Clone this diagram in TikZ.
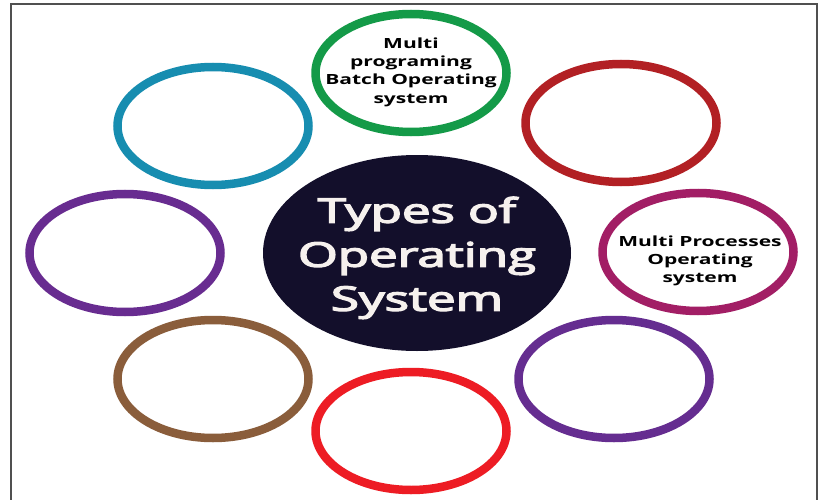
\documentclass[tikz,border=0pt]{standalone}
\usepackage{fontspec}
\setmainfont{Open Sans}
\newfontfamily\hubfont[FakeBold=3.5]{Open Sans}
\usetikzlibrary{shapes.geometric}
\definecolor{cgreen}{HTML}{149A48}
\definecolor{cteal}{HTML}{178DB0}
\definecolor{cdred}{HTML}{B22024}
\definecolor{cpurpA}{HTML}{682C90}
\definecolor{cmag}{HTML}{A21E65}
\definecolor{cbrown}{HTML}{8A5D3B}
\definecolor{cred}{HTML}{ED1C24}
\definecolor{cpurpB}{HTML}{652D90}
\definecolor{cnavy}{HTML}{130F2B}
\definecolor{ctext}{HTML}{F6F1EE}
\definecolor{cframe}{HTML}{505050}
\begin{document}
\begin{tikzpicture}[x=1pt,y=-1pt,
  ring/.style={ellipse, line width=8.5pt, minimum width=191pt, minimum height=118pt, inner sep=0pt},
  lbl/.style={align=center, inner sep=0pt, text=black, font=\bfseries\fontsize{14}{18.3}\selectfont},
  hub/.style={ellipse, fill=cnavy, minimum width=308pt, minimum height=196pt, inner sep=0pt},
  hubtxt/.style={align=center, inner sep=0pt, text=ctext, font=\hubfont\fontsize{34}{44}\selectfont}]
\useasboundingbox (0,0) rectangle (819,500);
\fill[white] (0,0) rectangle (819,500);
% frame
\coordinate (fbl) at (11,502);
\coordinate (ftl) at (11,4);
\coordinate (ftr) at (817,4);
\coordinate (fbr) at (817,502);
\draw[cframe, line width=1.6pt] (fbl) -- (ftl) -- (ftr) -- (fbr);
% central hub
\node[hub] (hub) at (417,253) {};
\node[hubtxt] (hubt) at (417,258) {\scalebox{1.5}[1]{\begin{tabular}{@{}c@{}}Types of\\Operating\\System\end{tabular}}};
% rings
\node[ring, draw=cgreen] (r1) at (411,73) {};
\node[ring, draw=cdred] (r2) at (621,123) {};
\node[ring, draw=cmag] (r3) at (698,252) {};
\node[ring, draw=cpurpB] (r4) at (614,379) {};
\node[ring, draw=cred] (r5) at (411,431) {};
\node[ring, draw=cbrown] (r6) at (213,379) {};
\node[ring, draw=cpurpA] (r7) at (125,253) {};
\node[ring, draw=cteal] (r8) at (213,126) {};
% labels
\node[lbl] (l1) at (411,72) {\scalebox{1.5}[1]{\begin{tabular}{@{}c@{}}Multi\\programing\\Batch Operating\\system\end{tabular}}};
\node[lbl] (l3) at (700,261) {\scalebox{1.5}[1]{\begin{tabular}{@{}c@{}}Multi Processes\\Operating\\system\end{tabular}}};
\end{tikzpicture}
\end{document}
